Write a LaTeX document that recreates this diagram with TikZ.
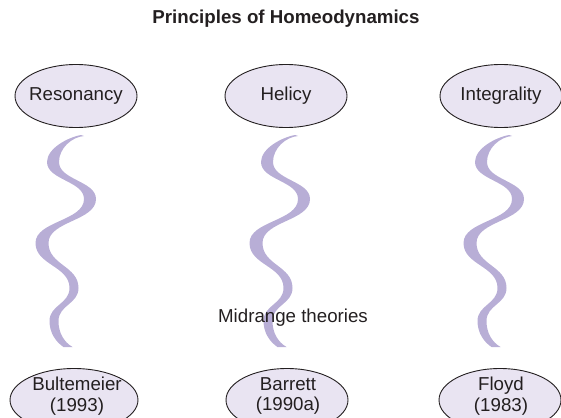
\documentclass[tikz,border=0pt]{standalone}
\usepackage{fontspec}
\setmainfont{Liberation Sans}
\usetikzlibrary{shapes.geometric}
\definecolor{ellfill}{RGB}{233,228,242}
\definecolor{squig}{RGB}{184,174,214}
\definecolor{ink}{RGB}{35,31,32}
\tikzset{
  prin/.style={ellipse, draw=ink, line width=0.9pt, fill=ellfill, inner ysep=0pt, inner xsep=-4.5pt,
    minimum width=122pt, minimum height=63pt, text=ink,
    font=\fontsize{18.7}{20.5}\selectfont, align=center},
  label/.style={text=ink, font=\fontsize{18.7}{20.5}\selectfont, align=center},
  wave/.style={fill=squig, draw=none}
}
\newcommand{\wavyshape}{%
  \fill[wave] (81,135) .. controls (69,137) and (47,148) .. (47,162)
   .. controls (47,180) and (84,181) .. (84,199)
   .. controls (84,221) and (35.5,221) .. (35.5,243)
   .. controls (35.5,265) and (69.5,266) .. (69.5,288)
   .. controls (69.5,304) and (49.5,305) .. (49.5,321)
   .. controls (49.5,333) and (56,342) .. (63.5,347)
   -- (72.5,347)
   .. controls (64,342) and (58.5,333) .. (58.5,321)
   .. controls (58.5,305) and (78.5,304) .. (78.5,288)
   .. controls (78.5,266) and (48.5,265) .. (48.5,243)
   .. controls (48.5,221) and (96,221) .. (96,199)
   .. controls (96,181) and (59,180) .. (59,162)
   .. controls (59,148) and (72,137) .. (84,136) -- cycle;}
\begin{document}
\begin{tikzpicture}[x=1pt,y=-1pt]
\useasboundingbox (0,0) rectangle (561,417);
\node[text=ink, font=\fontsize{18.7}{20.5}\selectfont\bfseries] (title) at (286,19) {Principles of Homeodynamics};
\begin{scope}\wavyshape\end{scope}
\begin{scope}[xshift=214pt]\wavyshape\end{scope}
\begin{scope}[xshift=428pt]\wavyshape\end{scope}
\node[prin] (reso) at (76,96) {Resonancy};
\node[prin] (heli) at (286,96) {Helicy};
\node[prin] (inte) at (501,96) {Integrality};
\node[label] (mid) at (293,318) {Midrange theories};
\node[prin, minimum width=128pt] (bult) at (74,400) {};
\node[prin] (barr) at (287,400) {};
\node[prin] (floy) at (500,400) {};
\node[label] (bultT) at (77,396) {Bultemeier\\(1993)};
\node[label] (barrT) at (288,396) {Barrett\\(1990a)};
\node[label] (floyT) at (501,396) {Floyd\\(1983)};
\end{tikzpicture}
\end{document}
